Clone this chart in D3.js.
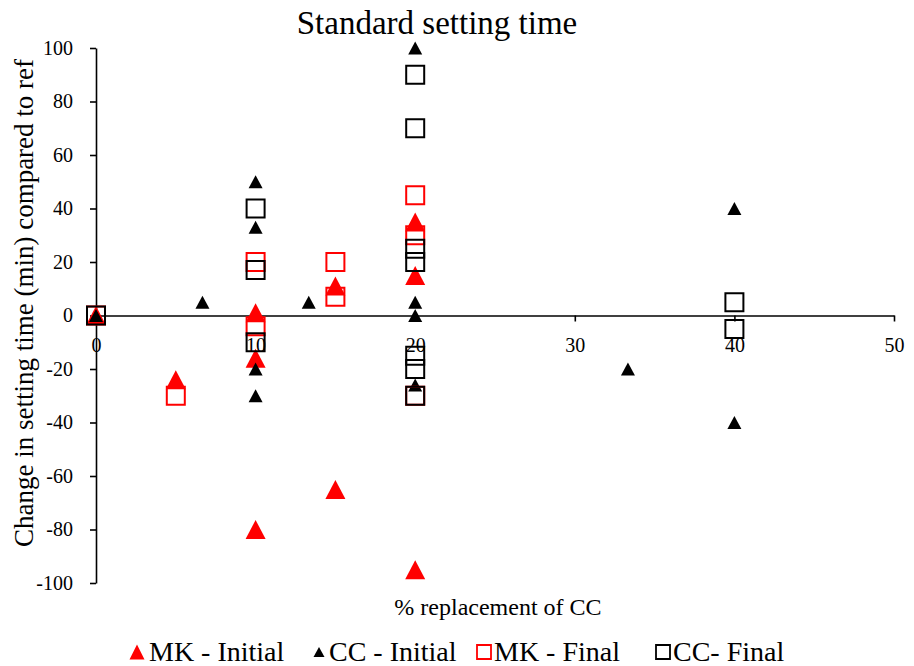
<!DOCTYPE html>
<html>
<head>
<meta charset="utf-8">
<script src="https://cdn.jsdelivr.net/npm/d3@7"></script>
<style>
  html, body { margin: 0; padding: 0; background: #fff; }
  svg { display: block; }
</style>
</head>
<body>
<svg id="chart" width="914" height="666"></svg>
<script>
// Series values: [% replacement of CC, change in setting time (min)]
const mkInitial = [
  [0, 0], [5, -24], [10, 1], [10, -16], [10, -80],
  [15, 11], [15, -65], [20, 35], [20, 15], [20, -95]
];
const ccInitial = [
  [0, 0], [6.67, 5], [10, 50], [10, 33], [10, -20], [10, -30],
  [13.33, 5], [20, 100], [20, 5], [20, 0], [20, -26],
  [33.33, -20], [40, 40], [40, -40]
];
const mkFinal = [
  [0, 0], [5, -30], [10, 20], [10, -4], [15, 20], [15, 7],
  [20, 45], [20, 30], [20, -30]
];
const ccFinal = [
  [0, 0], [10, 40], [10, 17], [10, -10], [20, 90], [20, 70],
  [20, 25], [20, 20], [20, -15], [20, -20], [20, -30], [40, 5], [40, -5]
];
const xTicks = [0, 10, 20, 30, 40, 50];
const yTicks = [-100, -80, -60, -40, -20, 0, 20, 40, 60, 80, 100];
const seriesNames = ["MK - Initial", "CC - Initial", "MK - Final", "CC- Final"];

const serif = "'Liberation Serif', 'Times New Roman', serif";
const svg = d3.select("#chart");
const x = d3.scaleLinear().domain([0, 50]).range([96, 894]);
const y = d3.scaleLinear().domain([-100, 100]).range([583, 48]);

// Title
svg.append("text")
  .attr("x", 437).attr("y", 34)
  .attr("text-anchor", "middle")
  .style("font-family", serif)
  .style("font-size", "33px")
  .text("Standard setting time");

// Y axis on the left edge (plain hyphen for negative labels)
const yAxis = d3.axisLeft(y).tickValues(yTicks).tickSize(6).tickPadding(17)
  .tickSizeOuter(0).tickFormat(d => String(d));
const gy = svg.append("g").attr("transform", `translate(${x(0)},0)`).call(yAxis);
gy.select(".domain").attr("stroke", "#000").attr("stroke-width", 1.6);
gy.selectAll(".tick line").attr("stroke", "#000").attr("stroke-width", 1.6);
gy.selectAll(".tick text").attr("fill", "#000")
  .style("font-family", serif).style("font-size", "20px");

// X axis crossing at zero
const xAxis = d3.axisBottom(x).tickValues(xTicks).tickSize(6).tickPadding(16)
  .tickSizeOuter(0).tickFormat(d => String(d));
const gx = svg.append("g").attr("transform", `translate(0,${y(0)})`).call(xAxis);
gx.select(".domain").attr("stroke", "#000").attr("stroke-width", 1.6);
gx.selectAll(".tick line").attr("stroke", "#000").attr("stroke-width", 1.6);
gx.selectAll(".tick text").attr("fill", "#000")
  .style("font-family", serif).style("font-size", "20px");

// Axis titles
svg.append("text")
  .attr("x", 498).attr("y", 615)
  .attr("text-anchor", "middle")
  .style("font-family", serif)
  .style("font-size", "24px")
  .text("% replacement of CC");
svg.append("text")
  .attr("transform", "translate(33,303) rotate(-90)")
  .attr("text-anchor", "middle")
  .style("font-family", serif)
  .style("font-size", "27px")
  .text("Change in setting time (min) compared to ref");

// Marker shapes
function triangle(w, h) {
  return `M0,${-h / 2}L${w / 2},${h / 2}L${-w / 2},${h / 2}Z`;
}
function square(s) {
  return `M${-s / 2},${-s / 2}h${s}v${s}h${-s}Z`;
}

const series = [
  { data: mkInitial, path: triangle(20, 19), fill: "#ff0000", stroke: "none", sw: 0 },
  { data: ccInitial, path: triangle(14, 13), fill: "#000", stroke: "none", sw: 0 },
  { data: mkFinal, path: square(18), fill: "none", stroke: "#ff0000", sw: 2 },
  { data: ccFinal, path: square(18), fill: "none", stroke: "#000", sw: 2 }
];

series.forEach(s => {
  svg.append("g").selectAll("path")
    .data(s.data)
    .join("path")
    .attr("transform", d => `translate(${x(d[0])},${y(d[1])})`)
    .attr("d", s.path)
    .attr("fill", s.fill)
    .attr("stroke", s.stroke)
    .attr("stroke-width", s.sw);
});

// Legend
const legendItems = [
  { path: triangle(15, 15), fill: "#ff0000", stroke: "none", sw: 0, mx: 137, tx: 149 },
  { path: triangle(11, 10), fill: "#000", stroke: "none", sw: 0, mx: 319, tx: 329 },
  { path: square(14), fill: "none", stroke: "#ff0000", sw: 1.8, mx: 484, tx: 494 },
  { path: square(14), fill: "none", stroke: "#000", sw: 1.8, mx: 663, tx: 673 }
];
const legend = svg.append("g");
legendItems.forEach((it, i) => {
  legend.append("path")
    .attr("transform", `translate(${it.mx},${652})`)
    .attr("d", it.path)
    .attr("fill", it.fill)
    .attr("stroke", it.stroke)
    .attr("stroke-width", it.sw);
  legend.append("text")
    .attr("x", it.tx).attr("y", 661)
    .style("font-family", serif)
    .style("font-size", "28px")
    .text(seriesNames[i]);
});
</script>
</body>
</html>
